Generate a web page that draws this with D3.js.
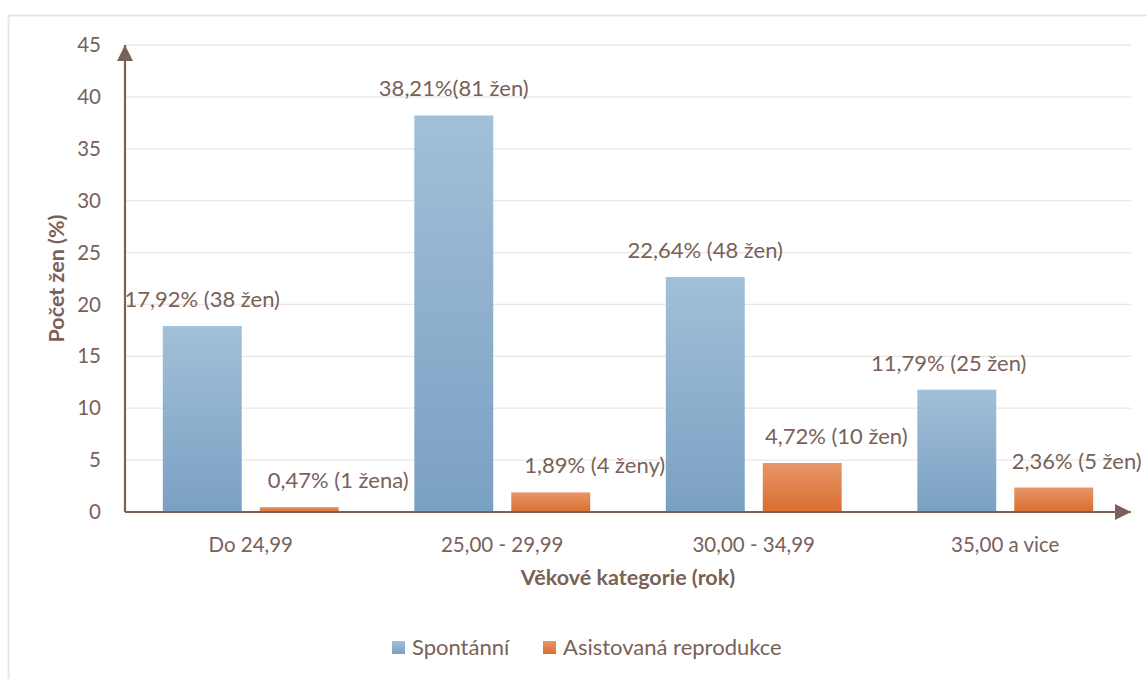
<!DOCTYPE html>
<html>
<head>
<meta charset="utf-8">
<script src="https://cdn.jsdelivr.net/npm/d3@7/dist/d3.min.js"></script>
<style>
  html, body { margin: 0; padding: 0; background: #fff; }
  svg { display: block; }
  text { font-family: Lato, "Open Sans", sans-serif; fill: #7a6158; }
</style>
</head>
<body>
<svg id="chart" width="1147" height="679"></svg>
<script>
// Age groups and the share of women (%) per conception type
const categories = ["Do 24,99", "25,00 - 29,99", "30,00 - 34,99", "35,00 a vice"];
const seriesNames = ["Spontánní", "Asistovaná reprodukce"];
const spontanni = [17.92, 38.21, 22.64, 11.79];
const asistovana = [0.47, 1.89, 4.72, 2.36];
const spontanniLabels = ["17,92% (38 žen)", "38,21%(81 žen)", "22,64% (48 žen)", "11,79% (25 žen)"];
const asistovanaLabels = ["0,47% (1 žena)", "1,89% (4 ženy)", "4,72% (10 žen)", "2,36% (5 žen)"];
const yTicks = [0, 5, 10, 15, 20, 25, 30, 35, 40, 45];

const svg = d3.select("#chart");
const plot = { left: 125, right: 1131, top: 45, bottom: 512 };
const axisColor = "#7a6158";

// light frame around the chart area
svg.append("rect")
  .attr("x", 8.5).attr("y", 15.5)
  .attr("width", 1200).attr("height", 700)
  .attr("fill", "none").attr("stroke", "#ebe5e2").attr("stroke-width", 2);

const defs = svg.append("defs");
function grad(id, top, bottom) {
  const g = defs.append("linearGradient").attr("id", id)
    .attr("x1", 0).attr("y1", 0).attr("x2", 0).attr("y2", 1);
  g.append("stop").attr("offset", "0%").attr("stop-color", top);
  g.append("stop").attr("offset", "100%").attr("stop-color", bottom);
}
grad("gBlue", "#a1c0d9", "#7aa0c2");
grad("gOrange", "#e8956a", "#d96e2e");
defs.append("marker").attr("id", "arrow")
  .attr("viewBox", "0 0 10 10").attr("refX", 10).attr("refY", 5)
  .attr("markerWidth", 16).attr("markerHeight", 16).attr("markerUnits", "userSpaceOnUse")
  .attr("orient", "auto")
  .append("path").attr("d", "M0,0 L10,5 L0,10 Z").attr("fill", axisColor);

const x0 = d3.scaleBand().domain(categories).range([plot.left, plot.right]).paddingInner(0).paddingOuter(0);
const x1 = d3.scaleBand().domain(seriesNames).range([0, x0.bandwidth()]).paddingInner(0.186).paddingOuter(0.39);
const y = d3.scaleLinear().domain([0, 45]).range([plot.bottom, plot.top]);

// gridlines
svg.append("g").selectAll("line").data(yTicks.filter(d => d > 0)).join("line")
  .attr("x1", plot.left).attr("x2", plot.right)
  .attr("y1", d => y(d)).attr("y2", d => y(d))
  .attr("stroke", "#ece6e3").attr("stroke-width", 1.3);

// y tick labels
const yAxis = d3.axisLeft(y).tickValues(yTicks).tickSize(0).tickPadding(24);
const gy = svg.append("g").attr("transform", `translate(${plot.left},0)`).call(yAxis);
gy.select(".domain").remove();
gy.selectAll("text").style("font-size", "20.5px").attr("fill", axisColor)
  .style("font-family", "Lato, sans-serif");

// bars and their value labels
const series = [
  { name: seriesNames[0], values: spontanni, labels: spontanniLabels, fill: "url(#gBlue)", shift: [0, 0, 0, -8] },
  { name: seriesNames[1], values: asistovana, labels: asistovanaLabels, fill: "url(#gOrange)", shift: [39, 44, 34, 23] }
];
series.forEach(s => {
  const g = svg.append("g");
  g.selectAll("rect").data(categories).join("rect")
    .attr("x", (c) => x0(c) + x1(s.name))
    .attr("width", x1.bandwidth())
    .attr("y", (c, i) => y(s.values[i]))
    .attr("height", (c, i) => y(0) - y(s.values[i]))
    .attr("fill", s.fill);
  g.selectAll("text").data(categories).join("text")
    .attr("x", (c, i) => x0(c) + x1(s.name) + x1.bandwidth() / 2 + s.shift[i])
    .attr("y", (c, i) => y(s.values[i]) - 19)
    .attr("text-anchor", "middle")
    .style("font-size", "22px")
    .text((c, i) => s.labels[i]);
});

// axes with arrow heads
svg.append("line")
  .attr("x1", plot.left).attr("y1", plot.bottom)
  .attr("x2", plot.left).attr("y2", plot.top)
  .attr("stroke", axisColor).attr("stroke-width", 2.2).attr("marker-end", "url(#arrow)");
svg.append("line")
  .attr("x1", plot.left).attr("y1", plot.bottom)
  .attr("x2", plot.right).attr("y2", plot.bottom)
  .attr("stroke", axisColor).attr("stroke-width", 2.2).attr("marker-end", "url(#arrow)");

// category labels
svg.append("g").selectAll("text").data(categories).join("text")
  .attr("x", c => x0(c) + x0.bandwidth() / 2)
  .attr("y", 552)
  .attr("text-anchor", "middle")
  .style("font-size", "20.5px")
  .text(c => c);

// axis titles
svg.append("text")
  .attr("x", (plot.left + plot.right) / 2).attr("y", 585)
  .attr("text-anchor", "middle").style("font-size", "21.5px").style("font-weight", "bold")
  .text("Věkové kategorie (rok)");
svg.append("text")
  .attr("transform", `translate(64,${(plot.top + plot.bottom) / 2}) rotate(-90)`)
  .attr("text-anchor", "middle").style("font-size", "21.5px").style("font-weight", "bold")
  .text("Počet žen (%)");

// legend
const legend = svg.append("g");
const legendItems = [
  { name: seriesNames[0], fill: "url(#gBlue)", x: 392 },
  { name: seriesNames[1], fill: "url(#gOrange)", x: 543 }
];
legendItems.forEach(it => {
  legend.append("rect").attr("x", it.x).attr("y", 641).attr("width", 13).attr("height", 13).attr("fill", it.fill);
  legend.append("text").attr("x", it.x + 20).attr("y", 655).style("font-size", "22px").text(it.name);
});
</script>
</body>
</html>
